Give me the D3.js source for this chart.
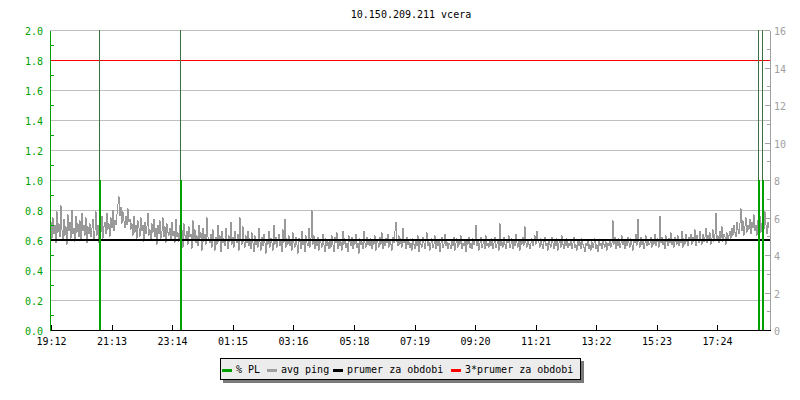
<!DOCTYPE html>
<html>
<head>
<meta charset="utf-8">
<script src="https://cdn.jsdelivr.net/npm/d3@7"></script>
<style>
	body { margin: 0; background: #fff; }
	text { font-family: "DejaVu Sans Mono", monospace; font-size: 10px; }
</style>
</head>
<body>
<div id="chart"></div>
<script>
(function() {
	var title = "10.150.209.211 vcera"

	// x axis labels (hh:mm), ticks are drawn where these times fall
	var timeLabels = ["19:12", "21:13", "23:14", "01:15", "03:16", "05:18", "07:19", "09:20", "11:21", "13:22", "15:23", "17:24"]
	var startTime = "19:10"   // first ping sample
	var stepMin = 2           // minutes between samples

	// avg ping, hundredths of the left scale, one value per 2 min
	var pingValues = [
		66,72,61,75,64,70,58,79,65,71,62,83,67,60,74,63,69,57,77,66,72,61,80,64,68,59,76,65,71,62,73,60,78,66,70,63,75,58,69,64,
		71,62,68,74,60,66,79,63,70,58,73,65,76,61,69,72,64,78,67,71,62,75,68,80,66,73,70,77,84,89,76,82,71,79,73,68,76,70,81,72,
		74,67,71,63,76,65,70,61,73,68,62,75,66,70,59,72,64,69,78,63,67,60,71,65,74,62,68,57,70,64,73,61,66,75,62,69,58,71,65,63,
		68,60,72,63,66,58,74,62,65,59,70,61,67,55,71,63,60,66,57,69,62,64,54,73,60,67,58,63,56,70,61,65,53,68,59,64,57,75,62,60,
		58,64,55,67,60,53,62,57,70,59,63,52,66,58,61,56,68,60,54,63,59,72,57,62,55,66,60,58,64,53,75,61,57,69,59,55,63,58,66,56,
		61,54,65,58,52,63,57,60,55,68,59,53,62,56,64,58,51,60,57,66,55,61,58,53,70,57,62,55,59,64,56,60,52,67,58,74,55,61,57,63,
		56,60,53,65,58,55,62,57,51,61,59,54,66,57,60,52,63,58,56,68,55,61,80,57,63,54,59,56,62,53,60,58,55,64,57,52,61,56,59,54,
		60,55,63,57,52,62,58,65,54,60,56,59,53,66,57,61,55,58,52,63,59,56,62,54,60,57,64,55,58,51,61,57,59,54,66,58,55,62,57,60,
		56,61,54,59,57,63,53,60,58,55,62,57,65,54,59,56,61,58,64,55,60,57,53,62,58,66,72,59,56,63,57,61,55,68,58,60,54,62,57,59,
		55,58,53,61,57,54,60,56,63,52,59,57,55,62,58,54,60,65,56,59,53,58,61,55,57,63,54,59,56,60,52,58,62,55,57,64,56,59,54,58,
		57,54,60,56,62,53,58,61,55,59,57,63,54,58,56,60,52,59,57,62,55,58,54,61,57,59,70,56,60,53,58,62,55,57,60,54,63,56,58,55,
		59,56,61,54,58,62,55,57,60,53,71,56,59,55,62,57,54,60,58,63,55,57,61,54,59,56,64,58,55,60,53,59,57,62,56,69,58,55,60,57,
		54,58,61,56,59,63,57,66,60,58,55,61,57,54,59,62,56,58,53,60,57,55,62,58,54,59,56,61,53,58,60,55,63,57,54,59,56,61,55,58,
		56,60,54,58,62,55,57,53,60,56,59,54,61,57,55,52,58,56,60,54,57,53,59,55,58,61,54,57,52,59,56,58,54,60,57,55,59,53,58,56,
		60,55,58,73,57,62,54,59,56,61,55,58,63,57,60,54,59,56,62,58,55,61,57,53,60,58,64,56,74,59,55,62,57,60,54,58,63,56,59,57,
		58,62,55,60,57,64,56,59,61,55,76,58,62,57,60,54,63,59,56,61,58,65,57,60,55,62,59,57,63,56,60,58,66,55,61,57,64,59,56,62,
		60,64,57,62,59,67,56,63,60,58,66,61,57,64,59,62,68,58,63,60,65,57,61,67,59,64,78,60,63,58,66,61,69,59,64,62,57,65,60,63,
		66,61,68,63,70,65,62,72,67,64,71,81,66,73,63,69,75,65,70,67,74,64,72,68,77,66,70,63,73,69,76,65,71,74,67,79,70,64,72,68
	]

	// packet loss events
	var plTimes = ["20:47", "23:29", "18:46", "18:54"]
	var plValues = [1.0, 1.0, 1.0, 1.0]

	var avgValue = 0.6
	var avg3Value = 1.8

	var legendLabels = ["% PL", "avg ping", "prumer za obdobi", "3*prumer za obdobi"]
	var legendColors = ["#00a000", "#a0a0a0", "#000000", "#ff0000"]

	var margin = { top: 30, left: 50, right: 30, bottom: 70 }
	var width = 800 - margin.left - margin.right
	var height = 400 - margin.top - margin.bottom

	var svg = d3.select("#chart")
		.append("svg")
		.attr("width", 800)
		.attr("height", 400)

	var g = svg.append("g")
		.attr("transform", "translate(" + margin.left + "," + margin.top + ")")

	function toMin(s) {
		var p = s.split(":")
		var m = +p[0] * 60 + +p[1]
		if (m < startMin) m += 1440
		return m
	}
	var startMin = 0
	startMin = toMin(startTime)

	var x = d3.scaleLinear()
		.domain([startMin, startMin + pingValues.length * stepMin])
		.range([0, width])
	var y = d3.scaleLinear().domain([0, 2]).range([height, 0])
	var yR = d3.scaleLinear().domain([0, 16]).range([height, 0])

	var majors = d3.range(0, 2.01, 0.2)
	var minors = d3.range(0.1, 2, 0.2)

	// grid
	g.append("g")
		.attr("class", "grid")
		.call(d3.axisLeft(y).tickValues(majors.slice(1)).tickSize(-width).tickFormat(""))
		.call(function(s) {
			s.select(".domain").remove()
			s.selectAll("line").attr("stroke", "#c0c0c0").attr("shape-rendering", "crispEdges")
		})

	// 3*average
	g.append("line")
		.attr("x1", 0).attr("x2", width)
		.attr("y1", y(avg3Value)).attr("y2", y(avg3Value))
		.attr("stroke", "#ff0000")
		.attr("shape-rendering", "crispEdges")

	// avg ping
	var line = d3.line()
		.x(function(d, i) { return x(startMin + i * stepMin) })
		.y(function(d) { return y(d / 100) })

	g.append("path")
		.datum(pingValues)
		.attr("d", line)
		.attr("fill", "none")
		.attr("stroke", "#999999")
		.attr("stroke-width", 1)
		.attr("shape-rendering", "crispEdges")

	// average
	g.append("line")
		.attr("x1", 0).attr("x2", width)
		.attr("y1", y(avgValue)).attr("y2", y(avgValue))
		.attr("stroke", "#000")
		.attr("stroke-width", 2)
		.attr("shape-rendering", "crispEdges")

	// packet loss
	var pl = plTimes.map(function(t, i) { return { t: toMin(t), v: plValues[i] } })

	g.selectAll(".plthin")
		.data(pl)
		.enter().append("line")
		.attr("class", "plthin")
		.attr("x1", function(d) { return Math.round(x(d.t)) + 0.5 })
		.attr("x2", function(d) { return Math.round(x(d.t)) + 0.5 })
		.attr("y1", 0).attr("y2", height)
		.attr("stroke", "#3f6f3f")

	g.selectAll(".plbar")
		.data(pl)
		.enter().append("rect")
		.attr("class", "plbar")
		.attr("x", function(d) { return Math.round(x(d.t)) - 0.5 })
		.attr("width", 2)
		.attr("y", function(d) { return y(d.v) })
		.attr("height", function(d) { return height - y(d.v) })
		.attr("fill", "#00a000")
		.attr("shape-rendering", "crispEdges")

	// left axis
	g.append("g")
		.call(d3.axisLeft(y).tickValues(majors).tickSize(0).tickPadding(7).tickFormat(d3.format(".1f")))
		.call(function(s) {
			s.select(".domain").attr("stroke", "#00a000").attr("shape-rendering", "crispEdges")
			s.selectAll("text").attr("fill", "#00a000").attr("dy", "0.45em")
		})
	g.append("g")
		.call(d3.axisRight(y).tickValues(minors).tickSize(4).tickFormat(""))
		.call(function(s) {
			s.select(".domain").remove()
			s.selectAll("line").attr("stroke", "#00a000").attr("shape-rendering", "crispEdges")
		})

	// right axis
	g.append("g")
		.attr("transform", "translate(" + width + ",0)")
		.call(d3.axisRight(yR).tickValues(d3.range(0, 17, 2)).tickSizeInner(-5).tickSizeOuter(0).tickPadding(4))
		.call(function(s) {
			s.select(".domain").attr("stroke", "#a0a0a0").attr("shape-rendering", "crispEdges")
			s.selectAll("line").attr("stroke", "#a0a0a0").attr("shape-rendering", "crispEdges")
			s.selectAll("text").attr("fill", "#a0a0a0").attr("dy", "0.45em")
		})
	g.append("g")
		.attr("transform", "translate(" + width + ",0)")
		.call(d3.axisLeft(yR).tickValues(d3.range(1, 16, 2)).tickSize(3).tickFormat(""))
		.call(function(s) {
			s.select(".domain").remove()
			s.selectAll("line").attr("stroke", "#a0a0a0").attr("shape-rendering", "crispEdges")
		})

	// bottom axis
	g.append("g")
		.attr("transform", "translate(0," + height + ")")
		.call(d3.axisBottom(x)
			.tickValues(timeLabels.map(toMin))
			.tickFormat(function(d, i) { return timeLabels[i] })
			.tickSizeInner(-5).tickSizeOuter(0).tickPadding(8))
		.call(function(s) {
			s.select(".domain").attr("stroke", "#000").attr("shape-rendering", "crispEdges")
			s.selectAll("line").attr("shape-rendering", "crispEdges")
			s.selectAll("text").attr("fill", "#000")
		})

	// title
	svg.append("text")
		.attr("x", 411)
		.attr("y", 18)
		.attr("text-anchor", "middle")
		.attr("fill", "#000")
		.text(title)

	// legend
	var lg = svg.append("g").attr("transform", "translate(220,358)")
	lg.append("rect").attr("x", 3).attr("y", 3).attr("width", 361).attr("height", 22).attr("fill", "#7a7a7a")
	lg.append("rect").attr("x", 0.5).attr("y", 0.5).attr("width", 360).attr("height", 21)
		.attr("fill", "#ececec").attr("stroke", "#000")

	var lx = [2, 47, 113, 231]
	var item = lg.selectAll(".item")
		.data(legendLabels)
		.enter().append("g")
		.attr("class", "item")
		.attr("transform", function(d, i) { return "translate(" + lx[i] + ",0)" })
	item.append("rect")
		.attr("x", 0).attr("y", 11).attr("width", 10).attr("height", 3)
		.attr("fill", function(d, i) { return legendColors[i] })
	item.append("text")
		.attr("x", 14)
		.attr("y", 15)
		.attr("fill", "#000")
		.text(function(d) { return d })
})();
</script>
</body>
</html>
